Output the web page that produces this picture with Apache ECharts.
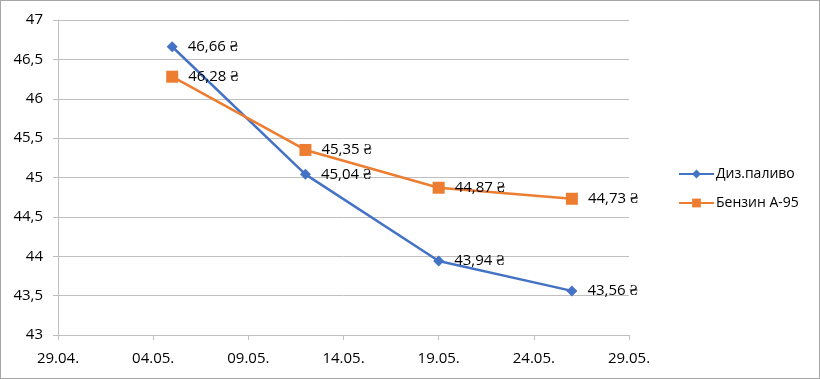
<!DOCTYPE html>
<html>
<head>
<meta charset="utf-8">
<script src="https://cdn.jsdelivr.net/npm/echarts@6/dist/echarts.min.js"></script>
<style>
html,body{margin:0;padding:0;background:#fff;}
#c{width:818px;height:377px;border:1px solid #a6a6a6;}
</style>
</head>
<body>
<div id="c"></div>
<script>
// Data
const startDate = '2023-04-29';
const endDate = '2023-05-29';
const tickDays = 5;
const dates = ['2023-05-05', '2023-05-12', '2023-05-19', '2023-05-26'];
const seriesNames = ['Диз.паливо', 'Бензин А-95'];
const diesel = [46.66, 45.04, 43.94, 43.56];
const petrol = [46.28, 45.35, 44.87, 44.73];
const yMin = 43, yMax = 47, yStep = 0.5;

const DAY = 86400000;
const t0 = Date.parse(startDate + 'T00:00:00Z');
const dayOffset = d => Math.round((Date.parse(d + 'T00:00:00Z') - t0) / DAY);
const span = dayOffset(endDate);
const fmtDate = v => {
  const d = new Date(t0 + v * DAY);
  const dd = String(d.getUTCDate()).padStart(2, '0');
  const mm = String(d.getUTCMonth() + 1).padStart(2, '0');
  return dd + '.' + mm + '.';
};
const fmtNum = (v, digits) => v.toFixed(digits).replace('.', ',');
const yFmt = v => (Math.round(v * 10) % 10 === 0 ? String(Math.round(v)) : fmtNum(v, 1));

const FONT = 'Open Sans';
const chart = echarts.init(document.getElementById('c'));
const mk = (name, vals, color, symbol, size) => ({
  name: name,
  type: 'line',
  data: dates.map((d, i) => [dayOffset(d), vals[i]]),
  symbol: symbol,
  symbolSize: size,
  lineStyle: { color: color, width: 2.5 },
  itemStyle: { color: color },
  label: {
    show: true,
    position: 'right',
    distance: 10,
    color: '#000',
    fontFamily: FONT,
    fontSize: 15,
    formatter: p => fmtNum(p.value[1], 2) + ' ₴'
  },
  animation: false
});

chart.setOption({
  animation: false,
  grid: { left: 57, right: 190, top: 19, bottom: 43 },
  xAxis: {
    type: 'value',
    min: 0,
    max: span,
    interval: tickDays,
    axisLine: { show: true, lineStyle: { color: '#bfbfbf', width: 1 } },
    axisTick: { show: true, length: 5, lineStyle: { color: '#bfbfbf' } },
    splitLine: { show: false },
    axisLabel: { formatter: fmtDate, color: '#000', fontFamily: FONT, fontSize: 15, margin: 16 }
  },
  yAxis: {
    type: 'value',
    min: yMin,
    max: yMax,
    interval: yStep,
    axisLine: { show: true, lineStyle: { color: '#bfbfbf', width: 1 } },
    axisTick: { show: true, length: 5, lineStyle: { color: '#bfbfbf' } },
    splitLine: { show: true, lineStyle: { color: '#bfbfbf', width: 1 } },
    axisLabel: { formatter: yFmt, color: '#000', fontFamily: FONT, fontSize: 15, margin: 15 }
  },
  legend: {
    orient: 'vertical',
    left: 677,
    top: 166,
    padding: 0,
    itemWidth: 35,
    itemHeight: 11,
    itemGap: 15,
    data: seriesNames,
    textStyle: { color: '#000', fontFamily: FONT, fontSize: 14, padding: [0, 0, 0, -3] }
  },
  series: [
    mk(seriesNames[0], diesel, '#4472C4', 'diamond', 11),
    mk(seriesNames[1], petrol, '#ED7D31', 'rect', 12)
  ]
});
</script>
</body>
</html>
